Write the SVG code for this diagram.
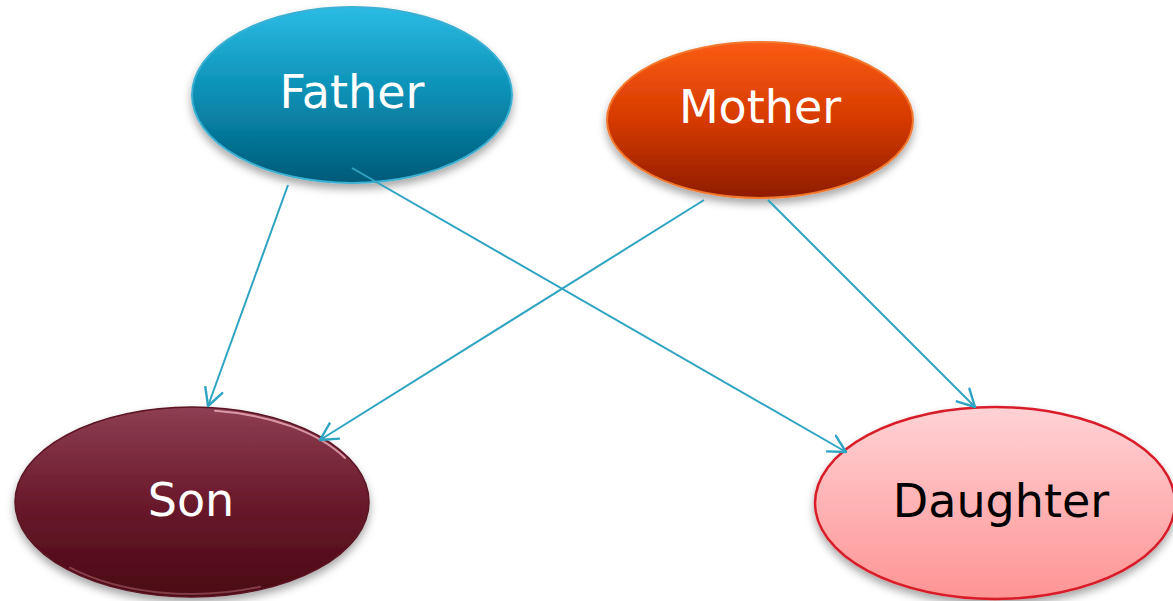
<svg xmlns="http://www.w3.org/2000/svg" width="1173" height="601" viewBox="0 0 1173 601">
  <defs>
    <linearGradient id="gFather" x1="0" y1="0" x2="0" y2="1">
      <stop offset="0" stop-color="#2bbbe4"/>
      <stop offset="0.5" stop-color="#0a8eb3"/>
      <stop offset="1" stop-color="#005a78"/>
    </linearGradient>
    <linearGradient id="gMother" x1="0" y1="0" x2="0" y2="1">
      <stop offset="0" stop-color="#fa5c14"/>
      <stop offset="0.5" stop-color="#d63a00"/>
      <stop offset="1" stop-color="#8e1c00"/>
    </linearGradient>
    <linearGradient id="gSon" x1="0" y1="0" x2="0" y2="1">
      <stop offset="0" stop-color="#8e3e52"/>
      <stop offset="0.5" stop-color="#6a1a2c"/>
      <stop offset="1" stop-color="#4a0814"/>
    </linearGradient>
    <linearGradient id="gDaughter" x1="0" y1="0" x2="0" y2="1">
      <stop offset="0" stop-color="#ffd2d5"/>
      <stop offset="1" stop-color="#ff9494"/>
    </linearGradient>
    <filter id="shadow" x="-20%" y="-20%" width="140%" height="150%">
      <feDropShadow dx="0" dy="5" stdDeviation="4" flood-color="#000" flood-opacity="0.35"/>
    </filter>
    <marker id="arrow" markerUnits="userSpaceOnUse" markerWidth="24" markerHeight="24" refX="18" refY="10" orient="auto" viewBox="0 0 24 20">
      <path d="M1,1 L18,10 L1,19" fill="none" stroke="#2ea4c2" stroke-width="2.4" stroke-linecap="round" stroke-linejoin="round"/>
    </marker>
    <style>
      .lbl { font-family: "DejaVu Sans", Verdana, sans-serif; font-size: 46px; text-anchor: middle; }
      .white { fill: #ffffff; }
      .conn { stroke: #2ea4c2; stroke-width: 2; fill: none; marker-end: url(#arrow); }
      .hl { fill: none; stroke-linecap: round; }
    </style>
  </defs>

  <g id="father">
    <ellipse cx="352" cy="95" rx="160" ry="88" fill="url(#gFather)" stroke="#3bb0d2" stroke-width="2" filter="url(#shadow)"/>
    <text class="lbl white" x="352" y="108">Father</text>
  </g>

  <g id="mother">
    <ellipse cx="760" cy="120" rx="153" ry="78" fill="url(#gMother)" stroke="#f2782e" stroke-width="2" filter="url(#shadow)"/>
    <text class="lbl white" x="760" y="123">Mother</text>
  </g>

  <g id="son">
    <ellipse cx="192" cy="502" rx="177" ry="95" fill="url(#gSon)" stroke="#5a1424" stroke-width="1.5" filter="url(#shadow)"/>
    <path class="hl" d="M215,410.8 A174,92 0 0,1 345,458" stroke="#f4b8c6" stroke-width="2" stroke-opacity="0.75"/>
    <path class="hl" d="M70,567.6 A174,92 0 0,0 260,586.7" stroke="#c77888" stroke-width="2" stroke-opacity="0.45"/>
    <text class="lbl white" x="191" y="516">Son</text>
  </g>

  <g id="daughter">
    <ellipse cx="995" cy="503" rx="180" ry="96" fill="url(#gDaughter)" stroke="#d81f2a" stroke-width="2.5" filter="url(#shadow)"/>
    <text class="lbl" x="1001" y="517" fill="#000000">Daughter</text>
  </g>

  <g id="connectors">
    <line class="conn" x1="288" y1="185" x2="208" y2="406"/>
    <line class="conn" x1="352" y1="168" x2="846" y2="452"/>
    <line class="conn" x1="704" y1="200" x2="320" y2="440"/>
    <line class="conn" x1="768" y1="200" x2="975" y2="407"/>
  </g>
</svg>
